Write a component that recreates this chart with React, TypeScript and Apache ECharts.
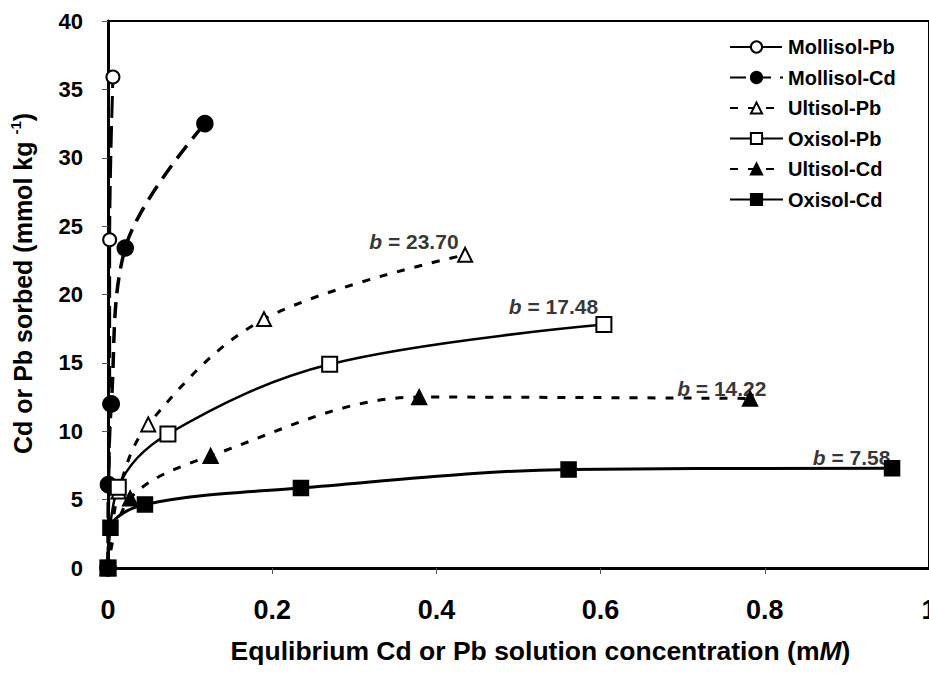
import React, { useEffect, useRef } from "react";
import * as echarts from "echarts";

const seriesNames = ["Mollisol-Pb", "Mollisol-Cd", "Ultisol-Pb", "Oxisol-Pb", "Ultisol-Cd", "Oxisol-Cd"];

const mollisolPb = [[0, 0], [0.001, 6], [0.002, 12], [0.002, 24], [0.006, 35.9]];
const mollisolCd = [[0, 0], [0.0005, 6.1], [0.004, 12], [0.021, 23.4], [0.118, 32.5]];
const ultisolPb = [[0, 0], [0.013, 5.6], [0.049, 10.5], [0.19, 18.2], [0.435, 22.9]];
const oxisolPb = [[0, 0], [0.0125, 5.9], [0.073, 9.8], [0.27, 14.9], [0.604, 17.8]];
const ultisolCd = [[0, 0], [0.027, 5.1], [0.125, 8.2], [0.379, 12.5], [0.782, 12.4]];
const oxisolCd = [[0, 0], [0.003, 2.95], [0.045, 4.65], [0.235, 5.85], [0.561, 7.2], [0.955, 7.3]];

const annotValues = ["23.70", "17.48", "14.22", "7.58"];
const annotPos = [[0.427, 23.9], [0.597, 19.15], [0.802, 13.1], [0.953, 8.05]];

const xTicks = [0, 0.2, 0.4, 0.6, 0.8, 1];
const yTicks = [0, 5, 10, 15, 20, 25, 30, 35, 40];

const FONT = "'Liberation Sans', Arial, sans-serif";

export default function App() {
  const ref = useRef<HTMLDivElement>(null);
  useEffect(() => {
    if (!ref.current) return;
    const chart = echarts.init(ref.current, undefined, { renderer: "svg" });
    const black = "#000";
    const mk = (name: string, data: number[][], symbol: string, size: number, lineType: any, width: number) => ({
      name,
      type: "line",
      data,
      smooth: 0.35,
      symbol,
      symbolSize: size,
      showAllSymbol: true,
      lineStyle: { color: black, width, type: lineType },
      itemStyle: { color: black, borderColor: black, borderWidth: 1.5 },
      z: 3,
    });
    chart.setOption({
      animation: false,
      backgroundColor: "#fff",
      grid: {
        left: 108,
        right: 0,
        top: 21,
        bottom: 106,
        containLabel: false,
        outerBoundsMode: "none",
        show: true,
        borderColor: black,
        borderWidth: 2,
      },
      legend: {
        orient: "vertical",
        left: 729,
        top: 37,
        padding: 0,
        itemWidth: 53,
        itemHeight: 14,
        itemGap: 10.5,
        data: seriesNames,
        textStyle: { fontFamily: FONT, fontSize: 20, fontWeight: "bold", color: black, lineHeight: 20 },
      },
      xAxis: {
        type: "value",
        min: 0,
        max: 1,
        interval: 0.2,
        name: "Equlibrium Cd or Pb solution concentration (m{it|M})",
        nameLocation: "middle",
        nameGap: 69,
        nameTextStyle: {
          fontFamily: FONT,
          fontSize: 26.5,
          fontWeight: "bold",
          color: black,
          padding: [0, 0, 0, 44],
          rich: { it: { fontFamily: FONT, fontSize: 26.5, fontWeight: "bold", fontStyle: "italic", color: black } },
        },
        axisLine: { show: true, onZero: false, lineStyle: { color: black, width: 3 } },
        axisTick: { show: true, length: 6, lineStyle: { color: "#555", width: 1 } },
        splitLine: { show: false },
        axisLabel: {
          fontFamily: FONT,
          fontSize: 27,
          fontWeight: "bold",
          color: black,
          margin: 28,
          formatter: (v: number) => (xTicks.includes(Math.round(v * 10) / 10) ? String(Math.round(v * 10) / 10) : ""),
        },
      },
      yAxis: {
        type: "value",
        min: 0,
        max: 40,
        interval: 5,
        name: "Cd or Pb sorbed (mmol kg {sup|-1})",
        nameLocation: "middle",
        nameGap: 70,
        nameRotate: 90,
        nameTextStyle: {
          fontFamily: FONT,
          fontSize: 25,
          fontWeight: "bold",
          color: black,
          lineHeight: 30,
          padding: [0, 0, 0, 22],
          rich: { sup: { fontFamily: FONT, fontSize: 15, fontWeight: "bold", color: black, verticalAlign: "top", lineHeight: 14 } },
        },
        axisLine: { show: true, onZero: false, lineStyle: { color: black, width: 3 } },
        axisTick: { show: true, length: 6, lineStyle: { color: "#555", width: 1 } },
        splitLine: { show: false },
        axisLabel: {
          fontFamily: FONT,
          fontSize: 22,
          fontWeight: "bold",
          color: black,
          margin: 25,
          formatter: (v: number) => (yTicks.includes(v) ? String(v) : ""),
        },
      },
      series: [
        mk(seriesNames[0], mollisolPb, "emptyCircle", 13, [22, 8], 3),
        mk(seriesNames[1], mollisolCd, "circle", 16, [16, 9], 3.5),
        mk(seriesNames[2], ultisolPb, "emptyTriangle", 14, [8, 10], 3),
        mk(seriesNames[3], oxisolPb, "emptyRect", 15, "solid", 2.5),
        mk(seriesNames[4], ultisolCd, "triangle", 15, [8, 10], 3),
        mk(seriesNames[5], oxisolCd, "rect", 15, "solid", 3),
        {
          name: "annotations",
          type: "scatter",
          data: annotPos.map((p, i) => ({ value: p, label: { formatter: "{b|b} = " + annotValues[i] } })),
          symbolSize: 0,
          silent: true,
          z: 5,
          label: {
            show: true,
            position: "left",
            distance: 0,
            fontFamily: FONT,
            fontSize: 21,
            fontWeight: "bold",
            color: black,
            rich: { b: { fontFamily: FONT, fontSize: 21, fontWeight: "bold", fontStyle: "italic", color: black } },
          },
        },
      ],
    });
    return () => chart.dispose();
  }, []);
  return <div ref={ref} style={{ width: 929, height: 674, position: "absolute", left: 0, top: 0 }} />;
}
